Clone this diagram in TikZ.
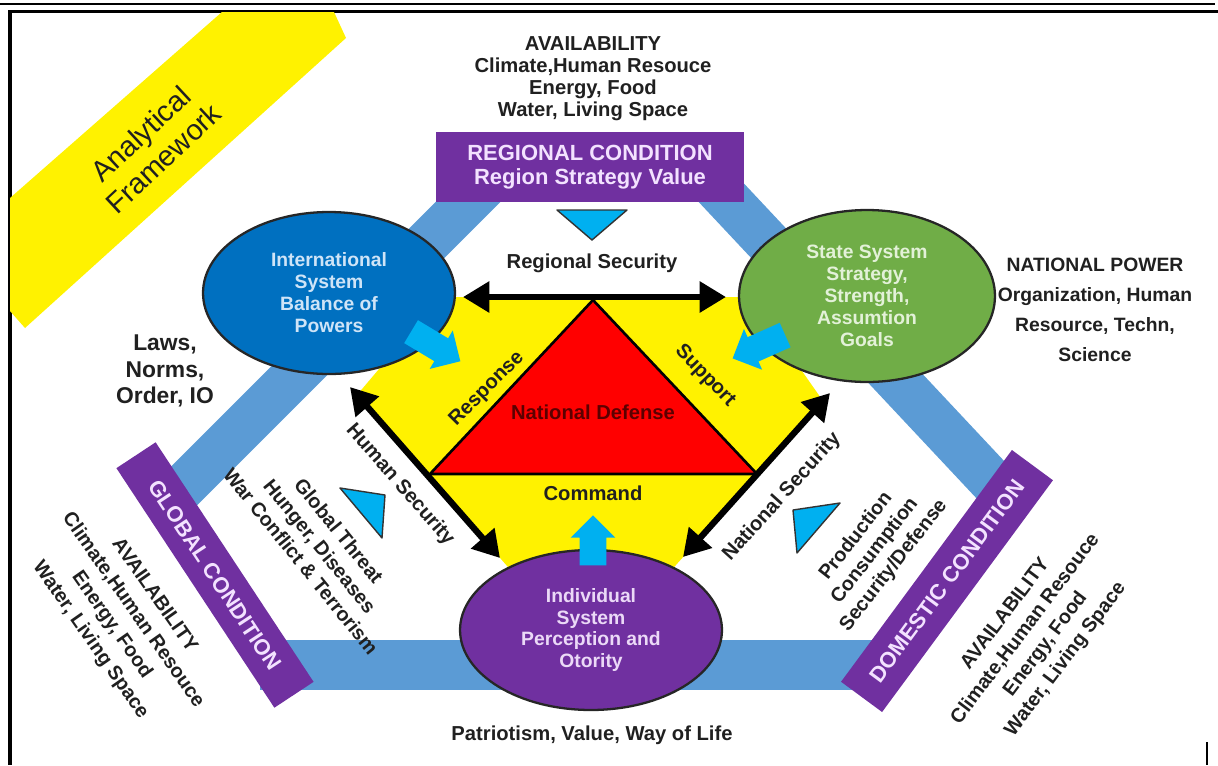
\documentclass[tikz,border=0pt]{standalone}
\usepackage{fontspec}
\setmainfont{Liberation Sans}
\usetikzlibrary{shapes.geometric,shapes.arrows,arrows.meta}
\definecolor{bandblue}{HTML}{5B9BD5}
\definecolor{condpurple}{HTML}{7030A0}
\definecolor{boxtext}{HTML}{F3E2FF}
\definecolor{intlblue}{HTML}{0070C0}
\definecolor{intltext}{HTML}{CFE4F7}
\definecolor{stategreen}{HTML}{70AD47}
\definecolor{statetext}{HTML}{E3F1D8}
\definecolor{indivtext}{HTML}{EBD9F7}
\definecolor{pointcyan}{HTML}{00B0F0}
\definecolor{defred}{HTML}{5C0000}
\definecolor{ink}{HTML}{202020}
\tikzset{
  band/.style={line width=26pt, draw=bandblue},
  condbox/.style={fill=condpurple, text=boxtext, inner sep=0pt, align=center, font=\bfseries\fontsize{12.5}{14}\selectfont},
  sysell/.style={ellipse, draw=black!85, line width=1.3pt, inner sep=0pt, align=center, font=\bfseries\fontsize{11}{12.5}\selectfont},
  twoway/.style={line width=3.6pt, {Triangle[length=15pt,width=17pt]}-{Triangle[length=15pt,width=17pt]}},
  pointer/.style={single arrow, fill=pointcyan, inner xsep=0pt, inner ysep=0.26cm, minimum height=1.15cm, single arrow head extend=0.18cm},
  marker/.style={fill=pointcyan, draw=black!80, line width=0.8pt, line join=round},
  lbl/.style={text=ink, align=center, font=\bfseries\fontsize{11.5}{12.5}\selectfont}
}
\begin{document}
\begin{tikzpicture}[x=0.02cm,y=-0.02cm]
\useasboundingbox (0,0) rectangle (1218,765);
\draw[line width=1.6pt] (0,4) -- (1215,4);
\draw[line width=1.8pt] (1218,11.5) -- (10,11.5) -- (10,765);
\draw[line width=1pt] (1207,742) -- (1207,765);
\fill[yellow] (10,198) -- (222,12) -- (334,12) -- (346,38) -- (25,328) -- (10,311) -- cycle;
\node[text=ink, align=center, rotate=43, font=\fontsize{16.5}{19}\selectfont] (anfw) at (152,146) {Analytical\\Framework};
\coordinate (regL) at (500,170);
\coordinate (regR) at (700,170);
\coordinate (globT) at (175,495);
\coordinate (globB) at (260,665);
\coordinate (domT) at (1000,490);
\coordinate (domB) at (880,665);
\draw[band] (regL) -- (globT);
\draw[band] (regR) -- (domT);
\draw[band, line width=28pt] (globB) -- (domB);
\fill[yellow] (440,297) -- (750,297) -- (823,401) -- (667,575) -- (515,575) -- (357,395) -- cycle;
\node[sysell, fill=intlblue, text=intltext, minimum width=5.04cm, minimum height=3.24cm] (intl) at (329,293) {International\\System\\Balance of\\Powers};
\node[sysell, fill=stategreen, text=statetext, minimum width=5.12cm, minimum height=3.44cm] (state) at (867,296) {State System\\Strategy,\\Strength,\\Assumtion\\Goals};
\node[sysell, fill=condpurple, text=indivtext, minimum width=5.24cm, minimum height=3.2cm] (indiv) at (591,630) {Individual\\System\\Perception and\\Otority};
\draw[fill=red, line width=1.5pt, line join=round] (593,300) -- (430,474) -- (757,474) -- cycle;
\coordinate (rsL) at (463,297);
\coordinate (rsR) at (726,297);
\coordinate (hsT) at (350,387);
\coordinate (hsB) at (500,558);
\coordinate (nsT) at (830,393);
\coordinate (nsB) at (683,557);
\draw[twoway] (rsL) -- (rsR);
\draw[twoway] (hsT) -- (hsB);
\draw[twoway] (nsT) -- (nsB);
\node[pointer, rotate=-31] (ptintl) at (430,343) {};
\node[pointer, rotate=204] (ptstate) at (765,344) {};
\node[pointer, rotate=90, minimum height=1cm] (ptindiv) at (593,547) {};
\draw[marker] (557,210) -- (627,210) -- (592,240) -- cycle;
\draw[marker] (340,488) -- (385,495) -- (382,538) -- cycle;
\draw[marker] (793,510) -- (840,503) -- (797,553) -- cycle;
\node[condbox, minimum width=6.18cm, minimum height=1.4cm] (reg) at (590,167) {REGIONAL CONDITION\\Region Strategy Value};
\node[condbox, rotate=-56.6, minimum width=5.74cm, minimum height=0.94cm] (glob) at (215,575) {GLOBAL CONDITION};
\node[condbox, rotate=53.6, minimum width=5.76cm, minimum height=1.02cm] (dom) at (947,581) {DOMESTIC CONDITION};
\node[lbl] (avtop) at (593,79) {AVAILABILITY\\Climate,Human Resouce\\Energy, Food\\Water, Living Space};
\node[lbl, font=\bfseries\fontsize{11}{17}\selectfont] (power) at (1095,310) {NATIONAL POWER\\Organization, Human\\Resource, Techn,\\Science};
\node[lbl, font=\bfseries\fontsize{13}{15.3}\selectfont] (laws) at (165,371) {Laws,\\Norms,\\Order, IO};
\node[lbl] (regsec) at (592,263) {Regional Security};
\node[lbl, text=defred] (natdef) at (593,412) {National Defense};
\node[lbl] (cmd) at (593,493) {Command};
\node[lbl, rotate=45] (resp) at (487,389) {Response};
\node[lbl, rotate=-46] (supp) at (705,376) {Support};
\node[lbl, rotate=-49] (humsec) at (400,485) {Human Security};
\node[lbl, rotate=48] (natsec) at (782,497) {National Security};
\node[lbl, rotate=-51, font=\bfseries\fontsize{11.3}{13.9}\selectfont] (threat) at (320,546) {Global Threat\\Hunger, Diseases\\War Conflict \& Terrorism};
\node[lbl, rotate=-55, font=\bfseries\fontsize{11.3}{14.8}\selectfont] (avglob) at (122,618) {AVAILABILITY\\Climate,Human Resouce\\Energy, Food\\Water, Living Space};
\node[lbl, rotate=53, font=\bfseries\fontsize{11.3}{14.3}\selectfont] (avdom) at (1036,637) {AVAILABILITY\\Climate,Human Resouce\\Energy, Food\\Water, Living Space};
\node[lbl, rotate=52, font=\bfseries\fontsize{11.3}{13.6}\selectfont] (prod) at (875,551) {Production\\Consumption\\Security/Defense};
\node[lbl] (patr) at (592,735) {Patriotism, Value, Way of Life};
\end{tikzpicture}
\end{document}
